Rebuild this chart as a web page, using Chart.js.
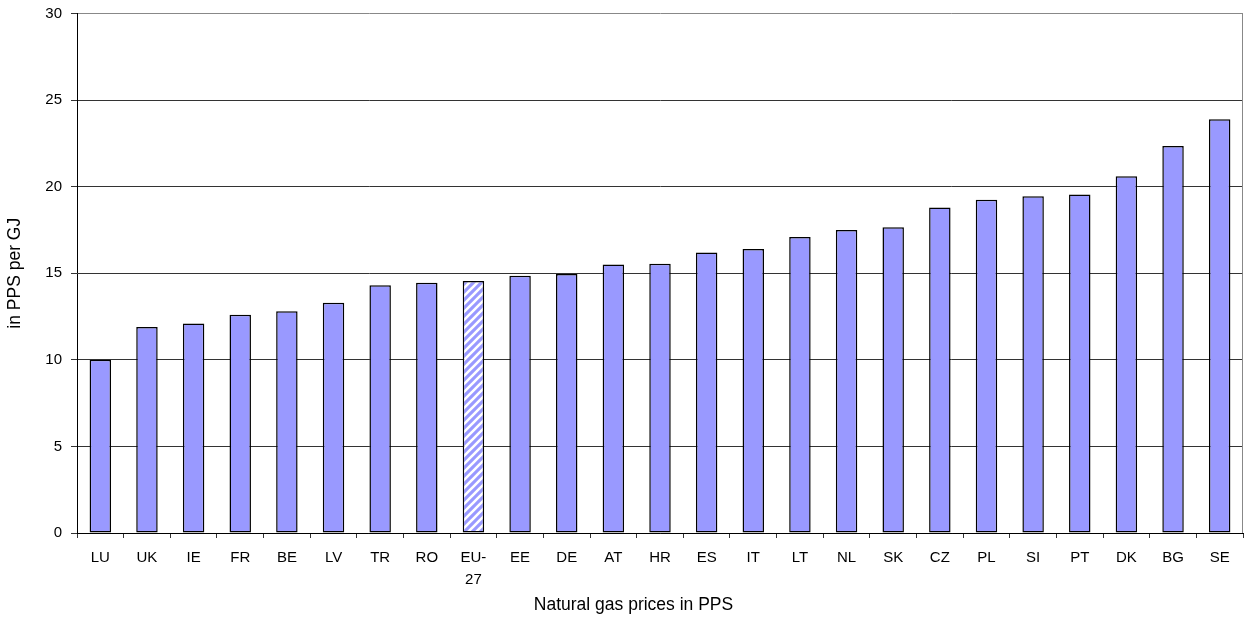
<!DOCTYPE html>
<html>
<head>
<meta charset="utf-8">
<title>Natural gas prices in PPS</title>
<script src="https://cdn.jsdelivr.net/npm/chart.js@4.4.1/dist/chart.umd.min.js"></script>
<style>
  html, body { margin: 0; padding: 0; background: #fff; }
  #wrap { width: 1245px; height: 618px; }
</style>
</head>
<body>
<div id="wrap"><canvas id="gasChart" width="1245" height="618"></canvas></div>
<script>
// Chart data
const countries = ['LU', 'UK', 'IE', 'FR', 'BE', 'LV', 'TR', 'RO', ['EU-', '27'], 'EE', 'DE', 'AT', 'HR',
    'ES', 'IT', 'LT', 'NL', 'SK', 'CZ', 'PL', 'SI', 'PT', 'DK', 'BG', 'SE'];
const pricesPPS = [10.0, 11.9, 12.1, 12.6, 12.8, 13.3, 14.3, 14.45, 14.55, 14.85, 14.95, 15.5, 15.55,
    16.2, 16.4, 17.1, 17.5, 17.65, 18.8, 19.25, 19.45, 19.55, 20.6, 22.35, 23.9];
const yTicks = [0, 5, 10, 15, 20, 25, 30];
const averageIndex = 8; // EU-27 bar gets the hatched fill

const BAR_BLUE = '#9999FF';
const FONT = 'Liberation Sans, Arial, sans-serif';

// Hatched pattern for the EU average bar
function makeHatch() {
    const size = 8;
    const c = document.createElement('canvas');
    c.width = size;
    c.height = size;
    const g = c.getContext('2d');
    g.fillStyle = BAR_BLUE;
    g.fillRect(0, 0, size, size);
    g.strokeStyle = '#ffffff';
    g.lineWidth = 2.6;
    g.beginPath();
    g.moveTo(-2, size + 2); g.lineTo(size + 2, -2);
    g.moveTo(-2, 2); g.lineTo(2, -2);
    g.moveTo(size - 2, size + 2); g.lineTo(size + 2, size - 2);
    g.stroke();
    return g.createPattern(c, 'repeat');
}

// Right frame line of the plot area (gray, like the reference)
const frameRight = {
    id: 'frameRight',
    afterDraw(chart) {
        const { ctx, chartArea } = chart;
        ctx.save();
        ctx.strokeStyle = '#888888';
        ctx.lineWidth = 1;
        ctx.beginPath();
        ctx.moveTo(Math.round(chartArea.right) - 0.5, chartArea.top);
        ctx.lineTo(Math.round(chartArea.right) - 0.5, chartArea.bottom);
        ctx.stroke();
        ctx.restore();
    }
};

document.addEventListener('DOMContentLoaded', () => {
    const hatch = makeHatch();
    const fills = pricesPPS.map((v, i) => i === averageIndex ? hatch : BAR_BLUE);

    const ctx = document.getElementById('gasChart').getContext('2d');
    new Chart(ctx, {
        type: 'bar',
        data: {
            labels: countries,
            datasets: [{
                data: pricesPPS,
                backgroundColor: fills,
                borderColor: '#000000',
                borderWidth: 1.5,
                borderSkipped: false,
                barPercentage: 0.46,
                categoryPercentage: 1.0
            }]
        },
        options: {
            responsive: false,
            animation: false,
            layout: { padding: { left: 24, right: 2, top: 13.5, bottom: 0 } },
            plugins: {
                legend: { display: false },
                tooltip: { enabled: false },
                title: {
                    display: true,
                    position: 'bottom',
                    text: 'Natural gas prices in PPS',
                    color: '#000',
                    font: { family: FONT, size: 17.5, weight: 'normal', lineHeight: 1.2 },
                    padding: { top: 3, bottom: 2 }
                }
            },
            scales: {
                x: {
                    grid: {
                        display: true,
                        offset: true,
                        drawOnChartArea: false,
                        drawTicks: true,
                        tickLength: 5,
                        color: '#333'
                    },
                    border: { display: true, color: '#000', width: 1 },
                    ticks: {
                        color: '#000',
                        maxRotation: 0,
                        autoSkip: false,
                        padding: 8.5,
                        font: { family: FONT, size: 15, lineHeight: 1.47 }
                    },
                    afterFit: (scale) => { scale.height = 59; }
                },
                y: {
                    min: 0,
                    max: 30,
                    afterBuildTicks: (scale) => { scale.ticks = yTicks.map(v => ({ value: v })); },
                    grid: {
                        color: (c) => c.tick && c.tick.value === 30 ? '#888' : '#333',
                        tickLength: 6,
                        tickColor: '#333'
                    },
                    border: { display: true, color: '#000', width: 1 },
                    ticks: {
                        color: '#000',
                        padding: 9,
                        font: { family: FONT, size: 15 }
                    },
                    title: {
                        display: true,
                        text: 'in PPS per GJ',
                        color: '#000',
                        font: { family: FONT, size: 17.5, lineHeight: 1.2 },
                        padding: { top: -19.5, bottom: 0 }
                    },
                    afterFit: (scale) => {
                        scale.width = 53;
                        // the top label may overhang the padding, so no extra room is needed
                        scale.paddingTop = 0;
                        scale.paddingBottom = 0;
                    }
                }
            }
        },
        plugins: [frameRight]
    });
});
</script>
</body>
</html>
